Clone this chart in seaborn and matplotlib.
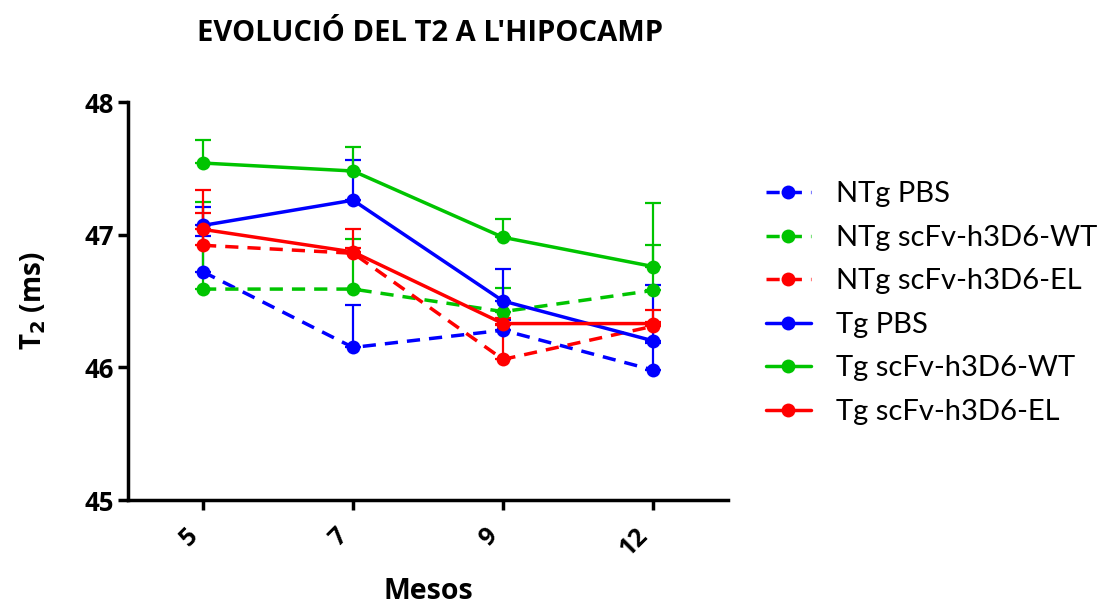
import matplotlib
matplotlib.use("Agg")
import matplotlib.pyplot as plt
import numpy as np
import pandas as pd
import seaborn as sns

# Mean T2 (ms) in the hippocampus per group and age (months), with upper SEM
months = ["5", "7", "9", "12"]
groups = ["NTg PBS", "NTg scFv-h3D6-WT", "NTg scFv-h3D6-EL",
          "Tg PBS", "Tg scFv-h3D6-WT", "Tg scFv-h3D6-EL"]

ntg_pbs = [46.72, 46.15, 46.28, 45.98]
ntg_wt = [46.59, 46.59, 46.42, 46.58]
ntg_el = [46.92, 46.86, 46.06, 46.31]
tg_pbs = [47.07, 47.26, 46.50, 46.20]
tg_wt = [47.54, 47.48, 46.98, 46.76]
tg_el = [47.04, 46.87, 46.33, 46.33]

ntg_pbs_sem = [0.27, 0.32, 0.08, 0.20]
ntg_wt_sem = [0.66, 0.38, 0.18, 0.34]
ntg_el_sem = [0.24, 0.04, 0.26, 0.03]
tg_pbs_sem = [0.14, 0.30, 0.24, 0.42]
tg_wt_sem = [0.17, 0.18, 0.14, 0.48]
tg_el_sem = [0.30, 0.17, 0.04, 0.10]

means = [ntg_pbs, ntg_wt, ntg_el, tg_pbs, tg_wt, tg_el]
sems = [ntg_pbs_sem, ntg_wt_sem, ntg_el_sem, tg_pbs_sem, tg_wt_sem, tg_el_sem]

blue, green, red = "#0000FF", "#00C400", "#FF0000"
palette = dict(zip(groups, [blue, green, red, blue, green, red]))
dash_pat = (3.8, 2.6)
dashes = dict(zip(groups, [dash_pat] * 3 + [""] * 3))
markers = dict(zip(groups, ["o"] * 6))

rows = []
for g, vals in zip(groups, means):
    for i, v in enumerate(vals):
        rows.append({"group": g, "pos": i, "month": months[i], "T2": v})
df = pd.DataFrame(rows)

sns.set_style("ticks")
plt.rcParams["font.family"] = ["Open Sans", "DejaVu Sans"]
plt.rcParams["text.color"] = "black"
plt.rcParams["axes.labelcolor"] = "black"
plt.rcParams["xtick.color"] = "black"
plt.rcParams["ytick.color"] = "black"
plt.rcParams["axes.edgecolor"] = "black"
plt.rcParams["mathtext.default"] = "regular"

fig = plt.figure(figsize=(10.99, 6.08), dpi=100)
ax = fig.add_axes([0.1165, 0.1776, 0.546, 0.6546])

sns.lineplot(data=df, x="pos", y="T2", hue="group", style="group",
             hue_order=groups, style_order=groups, palette=palette,
             dashes=dashes, markers=markers, markersize=10,
             markeredgewidth=0, linewidth=2.5, ax=ax, legend=True)

# one-sided (upper) error bars
for g, vals, err in zip(groups, means, sems):
    x = np.arange(len(months))
    ax.errorbar(x, vals, yerr=[np.zeros(len(err)), err], fmt="none",
                ecolor=palette[g], elinewidth=1.6, capsize=6, capthick=1.6,
                zorder=1)

ax.set_xlim(-0.5, 3.5)
ax.set_ylim(45, 48)
ax.set_yticks([45, 46, 47, 48])
ax.set_xticks(range(len(months)))
ax.set_xticklabels(months, rotation=45, ha="right", va="top",
                   fontsize=18, fontweight="bold")
for lab in ax.get_yticklabels():
    lab.set_fontsize(18.5)
    lab.set_fontweight("bold")
ax.tick_params(axis="both", width=2.5, length=7, direction="out", pad=3)
ax.tick_params(axis="x", pad=10)

sns.despine(ax=ax)
for side in ("left", "bottom"):
    ax.spines[side].set_linewidth(2.5)

ax.set_xlabel("Mesos", fontsize=20.5, fontweight="bold", labelpad=11)
ax.set_ylabel(r"T$_{\mathbf{2}}$ (ms)", fontsize=20, fontweight="bold",
              labelpad=26)
fig.suptitle("EVOLUCIÓ DEL T2 A L'HIPOCAMP", x=0.391, y=0.968, va="top",
             fontsize=21, fontweight="bold")

handles, labels = ax.get_legend_handles_labels()
ax.get_legend().remove()
fig.legend(handles, labels, loc="upper left", bbox_to_anchor=(0.673, 0.745),
           frameon=False, handlelength=1.55, handletextpad=0.85,
           labelspacing=0.6, prop={"family": ["Lato", "DejaVu Sans"], "size": 21})

fig.savefig("out.png", dpi=100)
